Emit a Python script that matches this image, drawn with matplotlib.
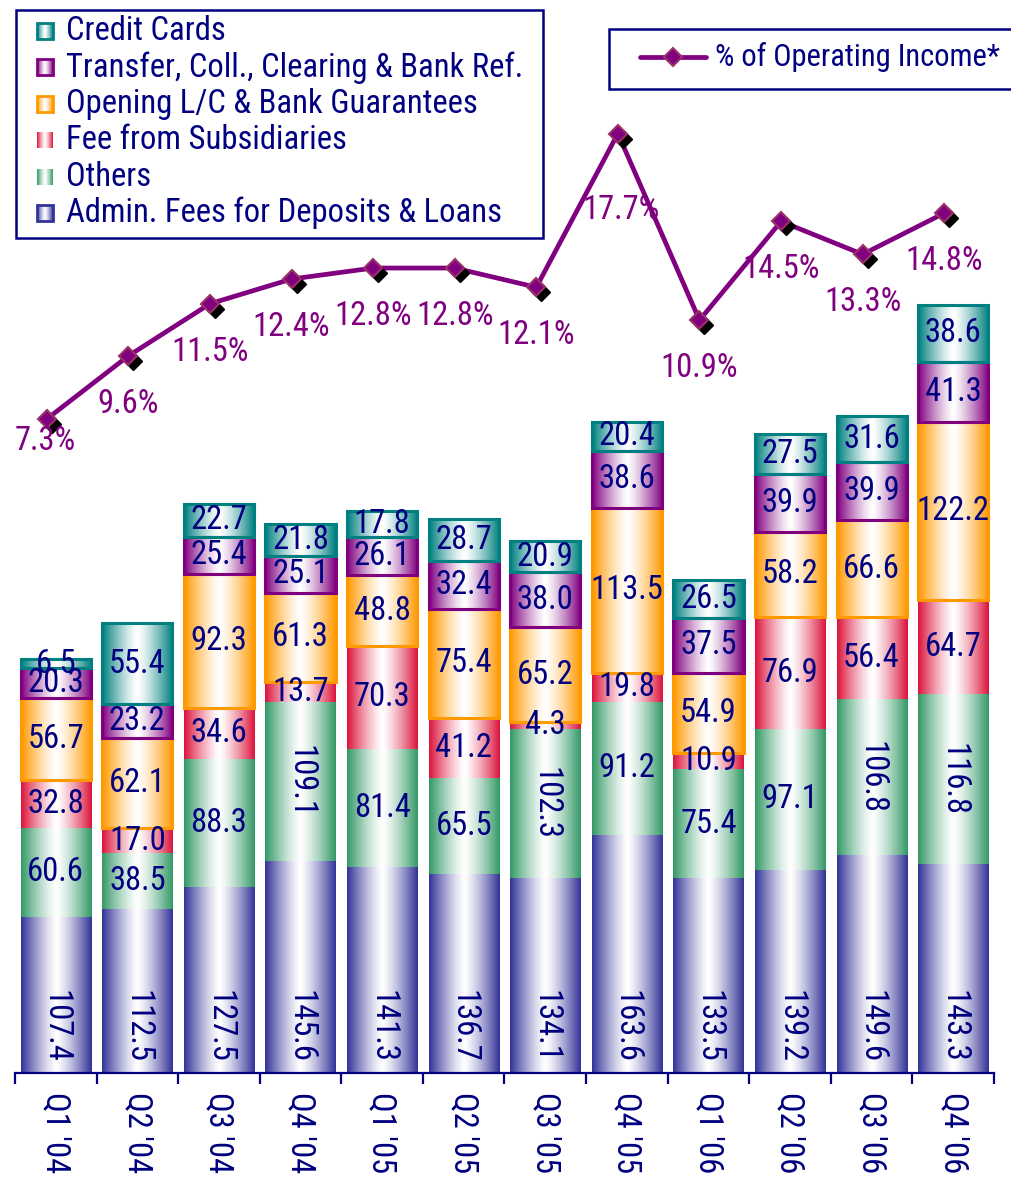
import numpy as np
import matplotlib
matplotlib.use("Agg")
import matplotlib.pyplot as plt
from matplotlib import font_manager
from matplotlib.colors import to_rgb
from matplotlib.patches import Rectangle
from matplotlib.transforms import offset_copy

# ---- data -------------------------------------------------------------
quarters = ["Q1 '04", "Q2 '04", "Q3 '04", "Q4 '04",
            "Q1 '05", "Q2 '05", "Q3 '05", "Q4 '05",
            "Q1 '06", "Q2 '06", "Q3 '06", "Q4 '06"]

series_names = ["Admin. Fees for Deposits & Loans",
                "Others",
                "Fee from Subsidiaries",
                "Opening L/C & Bank Guarantees",
                "Transfer, Coll., Clearing & Bank Ref.",
                "Credit Cards"]

admin_fees = [107.4, 112.5, 127.5, 145.6, 141.3, 136.7, 134.1, 163.6, 133.5, 139.2, 149.6, 143.3]
others = [60.6, 38.5, 88.3, 109.1, 81.4, 65.5, 102.3, 91.2, 75.4, 97.1, 106.8, 116.8]
fee_subsidiaries = [32.8, 17.0, 34.6, 13.7, 70.3, 41.2, 4.3, 19.8, 10.9, 76.9, 56.4, 64.7]
opening_lc = [56.7, 62.1, 92.3, 61.3, 48.8, 75.4, 65.2, 113.5, 54.9, 58.2, 66.6, 122.2]
transfer_fees = [20.3, 23.2, 25.4, 25.1, 26.1, 32.4, 38.0, 38.6, 37.5, 39.9, 39.9, 41.3]
credit_cards = [6.5, 55.4, 22.7, 21.8, 17.8, 28.7, 20.9, 20.4, 26.5, 27.5, 31.6, 38.6]

line_name = "% of Operating Income*"
pct_operating_income = [7.3, 9.6, 11.5, 12.4, 12.8, 12.8, 12.1, 17.7, 10.9, 14.5, 13.3, 14.8]

# ---- style ------------------------------------------------------------
stack = [admin_fees, others, fee_subsidiaries, opening_lc, transfer_fees, credit_cards]
face_colors = ["#333399", "#339966", "#DC143C", "#FF9900", "#800080", "#008080"]
edge_colors = [None, None, None, "#FF9900", "#800080", "#008080"]
legend_edges = ["#333399", None, None, "#FF9900", "#800080", "#008080"]
NAVY = "#000080"
PURPLE = "#800080"

# a narrow sans face keeps the labels inside the bars
available = {f.name for f in font_manager.fontManager.ttflist}
preferred = ["Roboto Condensed", "Liberation Sans Narrow", "Arial Narrow",
             "PT Sans Narrow", "Fira Sans Condensed", "IBM Plex Sans Condensed",
             "Sofia Sans Semi Condensed", "Liberation Sans"]
FONT = next((f for f in preferred if f in available), "DejaVu Sans")
plt.rcParams["font.family"] = [FONT, "DejaVu Sans"]
FS = 23.5
FS_LINE_LEGEND = 22

W_PX, H_PX = 1011, 1178
fig = plt.figure(figsize=(W_PX / 100, H_PX / 100), dpi=100)

# plot area in pixel terms
left_px, right_px, bottom_px, top_px = 15, 994, 1073, 10
ax = fig.add_axes([left_px / W_PX, 1 - bottom_px / H_PX,
                   (right_px - left_px) / W_PX, (bottom_px - top_px) / H_PX])
ax2 = ax.twinx()


def gradient(color, n=96):
    """Horizontal cylinder-like shading: colour at both edges, white in the middle."""
    c = np.array(to_rgb(color))
    t = np.linspace(0, 1, n)
    w = np.abs(2 * t - 1) ** 1.3
    rgb = (1 - w)[:, None] + w[:, None] * c
    return rgb[None, :, :]


n = len(quarters)
x = np.arange(n)
BAR_W = 0.86
bottoms = np.zeros(n)

for k, vals in enumerate(stack):
    vals = np.asarray(vals)
    g = gradient(face_colors[k])
    for i in range(n):
        ax.imshow(g, extent=[x[i] - BAR_W / 2, x[i] + BAR_W / 2, bottoms[i], bottoms[i] + vals[i]],
                  aspect="auto", interpolation="bilinear", zorder=2)
    if edge_colors[k]:
        ax.bar(x, vals, BAR_W, bottom=bottoms, facecolor="none",
               edgecolor=edge_colors[k], linewidth=2.2, zorder=3)
    for i in range(n):
        v = vals[i]
        txt = f"{v:.1f}"
        if k == 0:
            ax.annotate(txt, xy=(x[i], 0), xytext=(0, 10), textcoords="offset pixels",
                        rotation=270, ha="center", va="bottom", color=NAVY,
                        fontsize=FS, zorder=5)
        else:
            rot = 270 if (k == 1 and v >= 100) else 0
            ax.text(x[i], bottoms[i] + v / 2, txt, rotation=rot, ha="center",
                    va="center", color=NAVY, fontsize=FS, zorder=5)
    bottoms += vals

ax.set_xlim(-0.5, n - 0.5)
ax.set_ylim(0, (bottom_px - top_px) / 1.457)

for s in ["left", "right", "top"]:
    ax.spines[s].set_visible(False)
    ax2.spines[s].set_visible(False)
ax2.spines["bottom"].set_visible(False)
ax.spines["bottom"].set_color(NAVY)
ax.spines["bottom"].set_linewidth(1.6)
ax.set_yticks([])
ax2.set_yticks([])
ax.set_xticks(x)
ax.set_xticklabels(quarters, rotation=270, color=NAVY, fontsize=FS, va="top", ha="center")
ax.set_xticks(np.arange(n + 1) - 0.5, minor=True)
ax.tick_params(axis="x", which="major", length=0, pad=14)
ax.tick_params(axis="x", which="minor", length=8, width=1.6, color=NAVY, direction="out")

# ---- line on secondary axis --------------------------------------------
px_per_pct = 27.45
zero_px = 619.4
ax2.set_ylim((zero_px - bottom_px) / px_per_pct, (zero_px - top_px) / px_per_pct)
xl = x - 0.11
ax2.plot(xl, pct_operating_income, color=PURPLE, lw=3.4, zorder=3, solid_capstyle="round")
shadow = offset_copy(ax2.transData, fig=fig, x=5, y=-5, units="dots")
ax2.plot(xl, pct_operating_income, ls="none", marker="D", ms=9, color="black",
         transform=shadow, zorder=4)
ax2.plot(xl, pct_operating_income, ls="none", marker="D", ms=9, mfc=PURPLE,
         mec="#993366", mew=1.5, zorder=5)

label_offsets = {0: (-2, 22), 7: (3, 76)}
for i, p in enumerate(pct_operating_income):
    dx, dy = label_offsets.get(i, (0, 48))
    ax2.annotate(f"{p:.1f}%", xy=(xl[i], p), xytext=(dx, -dy), textcoords="offset pixels",
                 ha="center", va="center", color=PURPLE, fontsize=FS, zorder=6)

# ---- legends (drawn in a full-figure pixel overlay) --------------------
ov = fig.add_axes([0, 0, 1, 1], zorder=10)
ov.set_xlim(0, W_PX)
ov.set_ylim(H_PX, 0)
ov.axis("off")
ov.patch.set_alpha(0)

ov.add_patch(Rectangle((16, 10), 527, 228, facecolor="white", edgecolor=NAVY, linewidth=1.8))
for j, k in enumerate(reversed(range(len(series_names)))):
    yc = 31 + 36.4 * j
    ov.imshow(gradient(face_colors[k]), extent=[37, 53, yc + 8, yc - 8],
              aspect="auto", interpolation="bilinear", zorder=11)
    if legend_edges[k]:
        ov.add_patch(Rectangle((37, yc - 8), 16, 16, facecolor="none",
                               edgecolor=legend_edges[k], linewidth=2, zorder=12))
    ov.text(66, yc, series_names[k], ha="left", va="center", color=NAVY,
            fontsize=FS, zorder=12)

ov.add_patch(Rectangle((609, 29), 420, 60, facecolor="white", edgecolor=NAVY, linewidth=1.8))
ov.plot([640, 706], [57, 57], color=PURPLE, lw=3.4, solid_capstyle="round", zorder=11)
ov.plot([673], [57], ls="none", marker="D", ms=9, mfc=PURPLE, mec="#993366", mew=1.5, zorder=12)
ov.text(715, 57, line_name, ha="left", va="center", color=NAVY,
        fontsize=FS_LINE_LEGEND, zorder=12)
ov.set_xlim(0, W_PX)
ov.set_ylim(H_PX, 0)

fig.savefig("out.png", dpi=100)
